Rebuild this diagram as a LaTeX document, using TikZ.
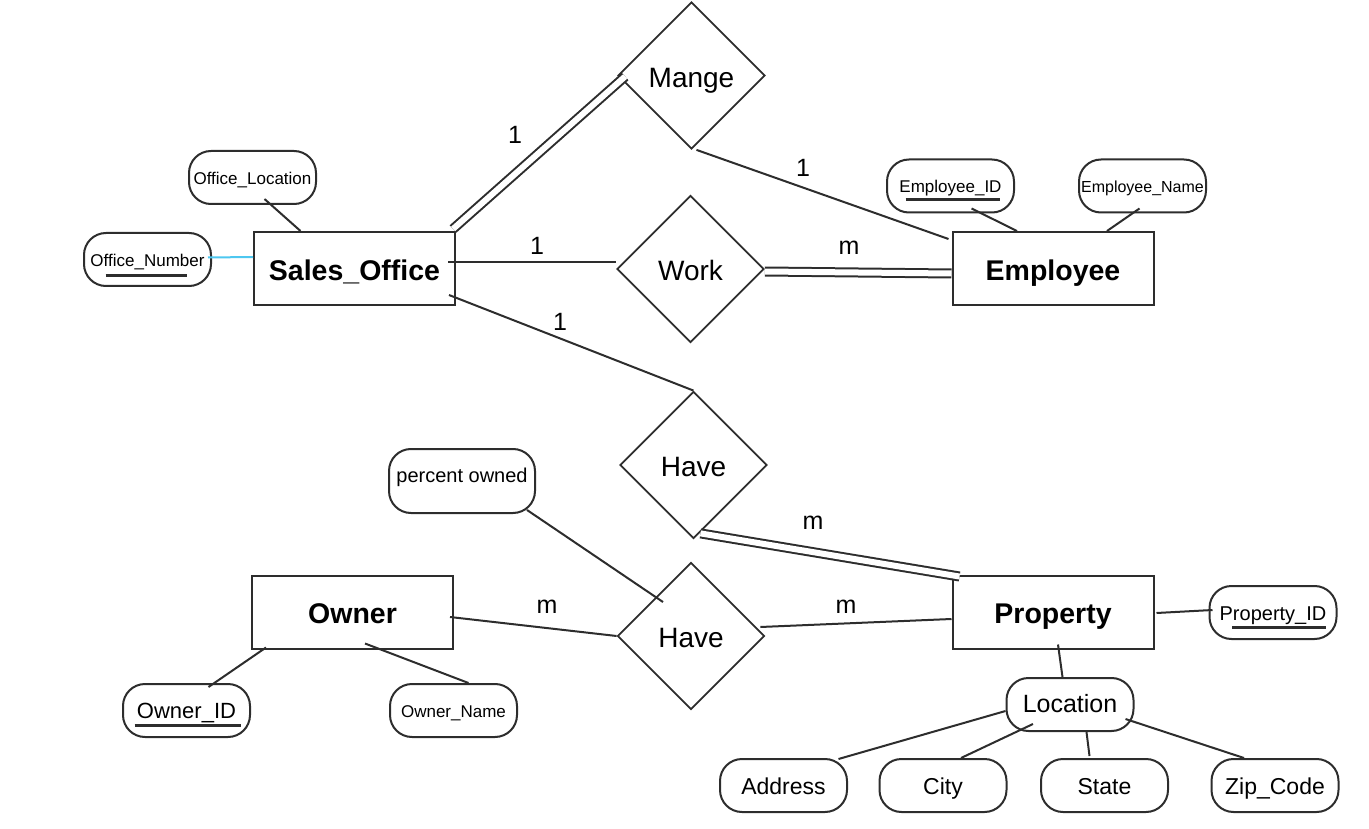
\documentclass[tikz,border=0pt]{standalone}
\usepackage{fontspec}
\setmainfont{Liberation Sans}
\usepackage{tikz}
\usetikzlibrary{shapes.geometric}
\definecolor{edge}{RGB}{45,45,45}
\definecolor{linkblue}{RGB}{77,199,240}

\begin{document}
\begin{tikzpicture}[x=1pt,y=1pt,
entity/.style={draw=edge, line width=2pt, minimum width=201pt, minimum height=73pt, inner sep=0pt, text height=24pt, text depth=0.5pt, font=\fontsize{28.5}{32}\selectfont\bfseries},
relation/.style={draw=edge, line width=1.8pt, diamond, aspect=1, minimum size=147pt, inner sep=0pt, text height=24pt, text depth=0.5pt, font=\fontsize{28}{32}\selectfont},
attr/.style={draw=edge, line width=2pt, rounded corners=22pt, minimum width=127pt, minimum height=53pt, inner sep=0pt, text height=14.5pt, text depth=0pt, font=\fontsize{17}{20}\selectfont},
card/.style={font=\fontsize{25}{30}\selectfont},
link/.style={draw=edge, line width=2pt},
total/.style={link, double, double distance=6pt},
keyline/.style={draw=edge, line width=2.2pt}]
\useasboundingbox (0,0) rectangle (1369,-829);

% entities
\node[entity] (so) at (354.5,-268.5) {Sales\_Office};
\node[entity] (emp) at (1053,-268.5) {Employee};
\node[entity] (owner) at (352.5,-612) {Owner};
\node[entity] (prop) at (1053,-612) {Property};

% relations
\node[relation] (mange) at (691.5,-75.5) {Mange};
\node[relation] (work) at (690.5,-269) {Work};
\node[relation] (haveA) at (693.5,-465) {Have};
\node[relation] (haveB) at (691,-636) {Have};

% attributes
\node[attr, text height=15pt] (oloc) at (252.5,-177.5) {Office\_Location};
\node[attr, text height=15pt] (onum) at (147.5,-259.5) {Office\_Number};
\node[attr, text height=13.5pt] (eid) at (950.5,-186) {Employee\_ID};
\node[attr, text height=13.5pt, font=\fontsize{16}{19}\selectfont] (ename) at (1142.5,-186) {Employee\_Name};
\node[attr, minimum width=146pt, minimum height=64pt, text height=16pt, text depth=14pt, font=\fontsize{20}{24}\selectfont] (pown) at (462,-481) {percent owned};
\node[attr, text height=16.5pt, font=\fontsize{22}{26}\selectfont] (oid) at (186.5,-710.5) {Owner\_ID};
\node[attr] (oname) at (453.5,-710.5) {Owner\_Name};
\node[attr, text height=15pt, font=\fontsize{20}{24}\selectfont] (pid) at (1273,-612.5) {Property\_ID};
\node[attr, text height=16pt, font=\fontsize{25}{30}\selectfont] (loc) at (1070,-704.5) {Location};
\node[attr, text height=18.6pt, font=\fontsize{23}{27}\selectfont] (addr) at (783.5,-785.5) {Address};
\node[attr, text height=18.6pt, font=\fontsize{23}{27}\selectfont] (city) at (943,-785.5) {City};
\node[attr, text height=18.6pt, font=\fontsize{23}{27}\selectfont] (state) at (1104.5,-785.5) {State};
\node[attr, text height=18.6pt, font=\fontsize{23}{27}\selectfont] (zip) at (1275,-785.5) {Zip\_Code};

% key underlines
\draw[keyline] ([xshift=-42pt,yshift=-16pt]onum.center) -- ([xshift=39pt,yshift=-16pt]onum.center);
\draw[keyline] ([xshift=-45pt,yshift=-13.5pt]eid.center) -- ([xshift=49pt,yshift=-13.5pt]eid.center);
\draw[keyline] ([xshift=-52pt,yshift=-15pt]oid.center) -- ([xshift=54pt,yshift=-15pt]oid.center);
\draw[keyline] ([xshift=-41pt,yshift=-15pt]pid.center) -- ([xshift=53pt,yshift=-15pt]pid.center);

% connectors
\draw[total] ([xshift=-3pt,yshift=2pt]so.north east) -- ([xshift=8pt,yshift=-1pt]mange.west);
\draw[link] ([xshift=5pt]mange.south) -- ([xshift=-3pt,yshift=-8pt]emp.north west);
\draw[link] ([xshift=-8pt,yshift=6.5pt]so.east) -- ([yshift=7pt]work.west);
\draw[total] ([yshift=-2.5pt]work.east) -- ([yshift=-5pt]emp.west);
\draw[link] ([xshift=-7pt,yshift=11pt]so.south east) -- (haveA.north);
\draw[total] ([xshift=7pt,yshift=6pt]haveA.south) -- ([xshift=8pt,yshift=-2pt]prop.north west);
\draw[link] ([xshift=-9pt,yshift=4pt]pown.south east) -- ([xshift=-28pt,yshift=34pt]haveB.center);
\draw[link] ([xshift=-4pt,yshift=-5pt]owner.east) -- (haveB.west);
\draw[link] ([xshift=-5pt,yshift=9pt]haveB.east) -- ([yshift=-7pt]prop.west);

\draw[link] ([xshift=12pt,yshift=6pt]oloc.south) -- ([xshift=-54pt]so.north);
\draw[draw=linkblue, line width=2pt] ([xshift=-4pt,yshift=2pt]onum.east) -- ([yshift=11.5pt]so.west);
\draw[link] ([xshift=21pt,yshift=5pt]eid.south) -- ([xshift=-36pt]emp.north);
\draw[link] ([xshift=-3pt,yshift=5pt]ename.south) -- ([xshift=54pt]emp.north);
\draw[link] ([xshift=15pt,yshift=2pt]owner.south west) -- ([xshift=22pt,yshift=-4pt]oid.north);
\draw[link] ([xshift=12.5pt,yshift=6pt]owner.south) -- ([xshift=15pt]oname.north);
\draw[link] ([xshift=2pt,yshift=-1pt]prop.east) -- ([xshift=4pt,yshift=2.5pt]pid.west);
\draw[link] ([xshift=5pt,yshift=5pt]prop.south) -- ([xshift=-7.5pt]loc.north);
\draw[link] ([yshift=-6.5pt]loc.west) -- ([xshift=55pt,yshift=-1pt]addr.north);
\draw[link] ([xshift=-37pt,yshift=8pt]loc.south) -- ([xshift=18pt]city.north);
\draw[link] ([xshift=16.5pt]loc.south) -- ([xshift=-15pt,yshift=2pt]state.north);
\draw[link] ([xshift=-9pt,yshift=-14.5pt]loc.east) -- ([xshift=-31pt]zip.north);

% cardinalities
\node[card] (c1) at (515,-135) {1};
\node[card] (c2) at (803,-168) {1};
\node[card] (c3) at (537,-246) {1};
\node[card] (c4) at (849,-248) {m};
\node[card] (c5) at (560,-322) {1};
\node[card] (c6) at (813,-523) {m};
\node[card] (c7) at (547,-607) {m};
\node[card] (c8) at (846,-607) {m};
\end{tikzpicture}
\end{document}
